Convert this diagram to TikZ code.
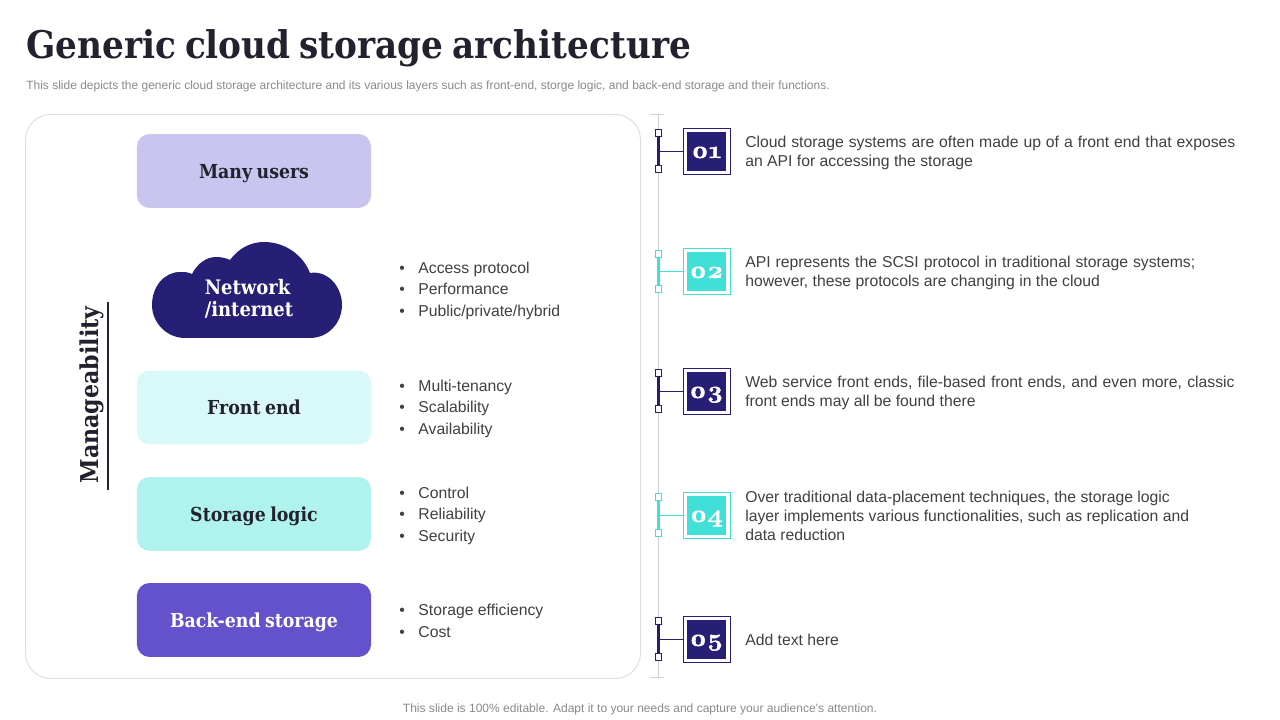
\documentclass[tikz,border=0pt]{standalone}
\usepackage{fontspec}
\setmainfont{Liberation Sans}
\newfontfamily\headfont[WordSpace=0.75]{DejaVu Serif Condensed}
\newfontfamily\numfont[Numbers=OldStyle,FakeStretch=1.12,BoldFeatures={FakeBold=2}]{Latin Modern Roman}
\usetikzlibrary{positioning}
\definecolor{navy}{HTML}{271F75}
\definecolor{aqua}{HTML}{40E0D8}
\definecolor{lavender}{HTML}{C9C5EE}
\definecolor{iceblue}{HTML}{D9F9F8}
\definecolor{mint}{HTML}{B0F2EE}
\definecolor{violet}{HTML}{6352CB}
\definecolor{ink}{HTML}{22222E}
\definecolor{bodygrey}{HTML}{404040}
\definecolor{notegrey}{HTML}{8A8A8A}
\definecolor{railgrey}{HTML}{CDD2D5}
\newcommand{\bitem}[1]{\makebox[13.6pt][l]{•}#1}
\tikzset{
  layerbox/.style={rounded corners=9pt, minimum width=166.5pt, minimum height=52.6pt, inner sep=0pt, align=center, text height=10pt, text depth=0pt, font=\headfont\bfseries\fontsize{13.7}{15}\selectfont},
  bulletlist/.style={anchor=west, align=left, inner sep=0pt, text=bodygrey, font=\fontsize{11.2}{15.3}\selectfont},
  bodytext/.style={anchor=west, align=justify, inner sep=0pt, text=bodygrey, font=\fontsize{11.2}{13.5}\selectfont},
  numbox/.style={minimum size=33.4pt, inner sep=0pt, fill=white, draw=#1, line width=0.7pt},
  numfill/.style={minimum size=27.7pt, inner sep=0pt, fill=#1, text=white, text height=9pt, text depth=0pt, font=\numfont\bfseries\fontsize{17}{17}\selectfont},
  endmark/.style={minimum size=4.6pt, inner sep=0pt, fill=white, draw=#1, line width=0.6pt},
}
\begin{document}
\begin{tikzpicture}[x=0.025cm, y=-0.025cm]
  \useasboundingbox (0,0) rectangle (1280,720);
  \fill[white] (0,0) rectangle (1280,720);
  % heading
  \node[anchor=west, inner sep=0pt, text=ink, font=\headfont\bfseries\fontsize{27.1}{30}\selectfont] (title) at (26,48) {Generic cloud storage architecture};
  \node[anchor=west, inner sep=0pt, text=notegrey, font=\fontsize{8.53}{10}\selectfont] (subtitle) at (26,86) {This slide depicts the generic cloud storage architecture and its various layers such as front-end, storge logic, and back-end storage and their functions.};
  \node[inner sep=0pt, text=notegrey, font=\fontsize{8.55}{10}\selectfont] (footer) at (640,709.5) {This slide is 100\% editable. Adapt it to your needs and capture your audience's attention.};
  % left panel
  \draw[railgrey!70, line width=0.7pt, rounded corners=18pt] (25.5,114.5) rectangle (640.5,678.5);
  \node[rotate=90, inner sep=0pt, text=ink, font=\headfont\bfseries\fontsize{17.5}{20}\selectfont] (manage) at (92,395) {Manageability};
  \coordinate (managetop) at (108,302);
  \coordinate (managebot) at (108,490);
  \draw[ink, line width=1.4pt] (managetop) -- (managebot);
  \node[layerbox, fill=lavender, text=ink] (users) at (254,171) {Many users};
  \fill[navy] (185,338) .. controls (167,338) and (152,323) .. (152,305)
    .. controls (152,287) and (164,272) .. (180,272)
    .. controls (184,272) and (188,272) .. (192,274)
    .. controls (197,264) and (206,257) .. (216,257)
    .. controls (221,257) and (226,258) .. (230,260)
    .. controls (238,249) and (250,242) .. (264,242)
    .. controls (285,242) and (303,255) .. (310,273)
    .. controls (328,270) and (342,287) .. (342,305)
    .. controls (342,323) and (328,338) .. (310,338) -- cycle;
  \node[inner sep=0pt, align=left, text=white, font=\headfont\bfseries\fontsize{14.2}{15.6}\selectfont] (network) at (249,299) {Network\\/internet};
  \node[layerbox, fill=iceblue, text=ink] (front) at (254,407.5) {Front end};
  \node[layerbox, fill=mint, text=ink] (logic) at (254,514) {Storage logic};
  \node[layerbox, fill=violet, text=white] (back) at (254,620) {Back-end storage};
  \node[bulletlist] (netlist) at (399,290.5) {\bitem{Access protocol}\\\bitem{Performance}\\\bitem{Public/private/hybrid}};
  \node[bulletlist] (frontlist) at (399,408.5) {\bitem{Multi-tenancy}\\\bitem{Scalability}\\\bitem{Availability}};
  \node[bulletlist] (logiclist) at (399,515.5) {\bitem{Control}\\\bitem{Reliability}\\\bitem{Security}};
  \node[bulletlist] (backlist) at (399,621) {\bitem{Storage efficiency}\\\bitem{Cost}};
  % rail with ticks
  \coordinate (railtop) at (658.5,114);
  \coordinate (railbot) at (658.5,677);
  \draw[railgrey, line width=1pt] (railtop) -- (railbot);
  \draw[railgrey, line width=0.7pt] (650,114) -- (664,114);
  \draw[railgrey, line width=0.7pt] (650,677) -- (664,677);
  % first step
  \node[endmark=navy] (topa) at (658.5,133) {};
  \node[endmark=navy] (bota) at (658.5,169) {};
  \node[numbox=navy] (boxa) at (706.5,151.5) {};
  \node[numfill=navy] (numa) at (706.5,151.5) {01};
  \draw[navy, line width=1.8pt] (topa) -- (bota);
  \draw[navy, line width=1pt] (658.5,151.5) -- (boxa);
  \node[bodytext, text width=348.5pt] (texta) at (745,153) {Cloud storage systems are often made up of a front end that exposes an API for accessing the storage};
  % second step
  \node[endmark=aqua] (topb) at (658.5,254) {};
  \node[endmark=aqua] (botb) at (658.5,289) {};
  \node[numbox=aqua] (boxb) at (706.5,271.5) {};
  \node[numfill=aqua] (numb) at (706.5,271.5) {02};
  \draw[aqua, line width=1.8pt] (topb) -- (botb);
  \draw[aqua, line width=1pt] (658.5,271.5) -- (boxb);
  \node[bodytext, text width=320pt] (textb) at (745,273) {API represents the SCSI protocol in traditional storage systems; however, these protocols are changing in the cloud};
  % third step
  \node[endmark=navy] (topc) at (658.5,373) {};
  \node[endmark=navy] (botc) at (658.5,409) {};
  \node[numbox=navy] (boxc) at (706.5,391.5) {};
  \node[numfill=navy] (numc) at (706.5,391.5) {03};
  \draw[navy, line width=1.8pt] (topc) -- (botc);
  \draw[navy, line width=1pt] (658.5,391.5) -- (boxc);
  \node[bodytext, text width=348pt] (textc) at (745,393) {Web service front ends, file-based front ends, and even more, classic front ends may all be found there};
  % fourth step
  \node[endmark=aqua] (topd) at (658.5,497) {};
  \node[endmark=aqua] (botd) at (658.5,533) {};
  \node[numbox=aqua] (boxd) at (706.5,515.5) {};
  \node[numfill=aqua] (numd) at (706.5,515.5) {04};
  \draw[aqua, line width=1.8pt] (topd) -- (botd);
  \draw[aqua, line width=1pt] (658.5,515.5) -- (boxd);
  \node[bodytext, align=left] (textd) at (745,516) {Over traditional data-placement techniques, the storage logic\\layer implements various functionalities, such as replication and\\data reduction};
  % fifth step
  \node[endmark=navy] (tope) at (658.5,621) {};
  \node[endmark=navy] (bote) at (658.5,657) {};
  \node[numbox=navy] (boxe) at (706.5,639.5) {};
  \node[numfill=navy] (nume) at (706.5,639.5) {05};
  \draw[navy, line width=1.8pt] (tope) -- (bote);
  \draw[navy, line width=1pt] (658.5,639.5) -- (boxe);
  \node[bodytext, text width=348pt] (texte) at (745,640) {Add text here};
\end{tikzpicture}
\end{document}
